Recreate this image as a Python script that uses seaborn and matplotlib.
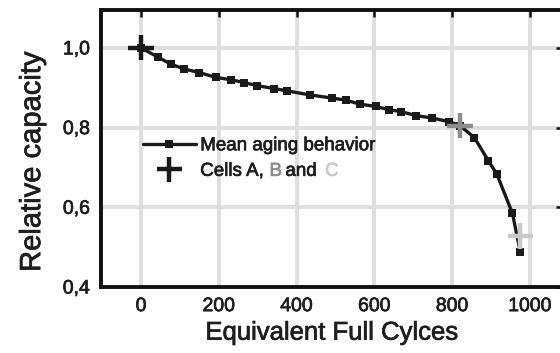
import matplotlib
matplotlib.use("Agg")
import matplotlib.pyplot as plt
import matplotlib.patheffects as pe
from matplotlib import font_manager
import seaborn as sns
import pandas as pd

# mean aging curve
cycles = [0, 43, 77, 111, 150, 192, 231, 265, 299, 342, 376, 434, 491, 526,
          562, 603, 637, 668, 708, 748, 791, 820, 857, 893, 915, 955, 975]
capacity = [1.000, 0.977, 0.959, 0.947, 0.938, 0.926, 0.920, 0.913, 0.905,
            0.898, 0.892, 0.882, 0.874, 0.869, 0.859, 0.853, 0.845, 0.840,
            0.830, 0.824, 0.815, 0.805, 0.775, 0.717, 0.683, 0.585, 0.489]

# end of life of single cells
cell_names = ["A", "B", "C"]
cell_cycles = [0, 820, 975]
cell_capacity = [1.000, 0.805, 0.528]
cell_colors = ["#1a1a1a", "#8c8c8c", "#c9c9c9"]

x_ticks = [0, 200, 400, 600, 800, 1000]
y_ticks = [0.4, 0.6, 0.8, 1.0]
y_tick_labels = ["0,4", "0,6", "0,8", "1,0"]

sns.set_theme(style="white")
plt.rcParams['font.family'] = ['Liberation Sans', 'DejaVu Sans']
installed = {f.name for f in font_manager.fontManager.ttflist}
narrow = "Liberation Sans Narrow" if "Liberation Sans Narrow" in installed else "Liberation Sans"
txt = "#1e1e1e"


def heavy(color):
    # helvetica in the original looks a bit heavier than Liberation regular
    return [pe.withStroke(linewidth=0.5, foreground=color)]


fig = plt.figure(figsize=(5.6, 3.53), dpi=100)
ax = fig.add_axes([101 / 560, 1 - 287 / 353, 462 / 560, 277 / 353])

df_mean = pd.DataFrame({"cycles": cycles, "capacity": capacity})
df_cells = pd.DataFrame({"cycles": cell_cycles, "capacity": cell_capacity, "cell": cell_names})

sns.lineplot(data=df_mean, x="cycles", y="capacity", ax=ax, color="#1a1a1a",
             linewidth=2.4, marker="s", markersize=6.3, markeredgewidth=0, zorder=3)
sns.scatterplot(data=df_cells, x="cycles", y="capacity", hue="cell",
                palette=dict(zip(cell_names, cell_colors)), marker="+", s=330,
                linewidth=3.2, ax=ax, zorder=4, legend=False)

ax.set_xlim(-103, 1085)
ax.set_ylim(0.4, 1.095)
ax.set_xticks(x_ticks)
ax.set_yticks(y_ticks)
ax.set_yticklabels(y_tick_labels)

ax.grid(True, color="#dedede", linewidth=2.8)
ax.set_axisbelow(True)
for s in ax.spines.values():
    s.set_color("#111111")
    s.set_linewidth(2.8)
ax.tick_params(direction="in", length=5, width=1.8, color="#111111",
               top=True, right=True, labelsize=14, labelcolor=txt, pad=8)
for lab in ax.get_xticklabels() + ax.get_yticklabels():
    lab.set_path_effects(heavy(txt))

ax.set_xlabel("Equivalent Full Cylces", fontsize=18.5, color=txt, labelpad=4,
              path_effects=heavy(txt))
ax.set_ylabel("Relative capacity", fontsize=21, color=txt, labelpad=12, y=0.453,
              path_effects=heavy(txt))

h_mean = plt.Line2D([], [], color="#1a1a1a", linewidth=2.4, marker="s", markersize=6.3,
                    markeredgewidth=0)
h_cell = plt.Line2D([], [], color=cell_colors[0], linestyle="", marker="+",
                    markersize=18, markeredgewidth=3.2)
leg = ax.legend([h_mean, h_cell], ["Mean aging behavior", "Cells A,"], loc="center left",
                bbox_to_anchor=(0.091, 0.464), frameon=False, fontsize=13.5,
                handlelength=2.8, handletextpad=0.25, labelspacing=0.45,
                borderpad=0, borderaxespad=0, numpoints=1)
for t in leg.get_texts():
    t.set_color(txt)
    t.set_path_effects(heavy(txt))
t_cells = leg.get_texts()[1]
t_cells.set_family([narrow, "DejaVu Sans"])

# coloured cell letters next to the legend text
a_b = ax.annotate("B", xy=(1, 0), xycoords=t_cells, xytext=(4.3, 0),
                  textcoords="offset points", color=cell_colors[1], fontsize=13.5,
                  family=[narrow, "DejaVu Sans"], va="bottom", ha="left", zorder=6,
                  path_effects=heavy(cell_colors[1]))
a_and = ax.annotate("and", xy=(1, 0), xycoords=a_b, xytext=(2.5, 0),
                    textcoords="offset points", color=txt, fontsize=13.5,
                    family=[narrow, "DejaVu Sans"], va="bottom", ha="left", zorder=6,
                    path_effects=heavy(txt))
ax.annotate("C", xy=(1, 0), xycoords=a_and, xytext=(6, 0),
            textcoords="offset points", color=cell_colors[2], fontsize=13.5,
            family=[narrow, "DejaVu Sans"], va="bottom", ha="left", zorder=6,
            path_effects=heavy(cell_colors[2]))

fig.canvas.draw()
fig.savefig("out.png", dpi=100)
